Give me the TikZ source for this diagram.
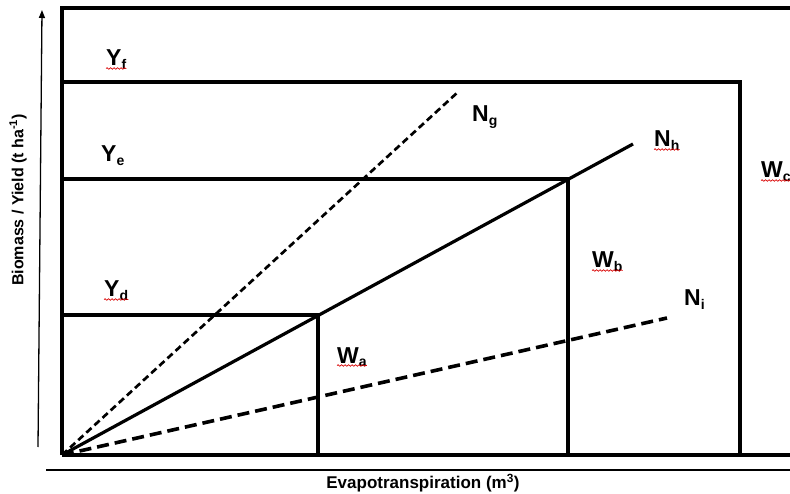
\documentclass[tikz,border=0pt]{standalone}
\usepackage{fontspec}
\setmainfont{Liberation Sans}
\usetikzlibrary{arrows.meta, decorations.pathmorphing}
\newcommand{\lsub}[1]{\raisebox{-3.5pt}{\fontsize{14}{14}\selectfont #1}}

\begin{document}
\begin{tikzpicture}[x=1pt, y=-1pt,
  frame/.style={line width=4pt},
  ray/.style={line width=3.2pt},
  axis/.style={line width=1.3pt},
  lbl/.style={font=\fontsize{23}{23}\selectfont\bfseries, inner sep=0pt, anchor=base west},
  axlbl/.style={font=\fontsize{17}{17}\selectfont\bfseries, inner sep=0pt},
  squiggle/.style={red!85!black, line width=0.7pt, decorate,
    decoration={snake, amplitude=0.8pt, segment length=3.5pt}}
]
\useasboundingbox (0,0) rectangle (790,494);

% corner points
\coordinate (O) at (62,455);
\coordinate (topL) at (62,8);
\coordinate (topR) at (790,8);
\coordinate (midL) at (62,82);
\coordinate (midR) at (740,82);
\coordinate (midB) at (740,455);
\coordinate (botR) at (790,455);
\coordinate (eL) at (62,179);
\coordinate (eR) at (568,179);
\coordinate (eB) at (568,455);
\coordinate (dL) at (62,315);
\coordinate (dR) at (318,315);
\coordinate (dB) at (318,455);
\coordinate (gEnd) at (458,92);
\coordinate (hEnd) at (633,144);
\coordinate (iEnd) at (667,318);

% boxes
\draw[frame] (O) -- (topL) -- (topR);
\draw[frame] (midL) -- (midR) -- (midB);
\draw[frame] (O) -- (botR);
\draw[frame] (eL) -- (eR) -- (eB);
\draw[frame] (dL) -- (dR) -- (dB);

% rays from the origin
\draw[ray, line width=2.7pt, dash pattern=on 7pt off 4pt] (O) -- (gEnd);
\draw[ray] (O) -- (hEnd);
\draw[ray, line width=3.6pt, dash pattern=on 12pt off 6pt] (O) -- (iEnd);

% axes
\coordinate (yA) at (38,447);
\coordinate (yB) at (42,10);
\coordinate (xA) at (46,470);
\coordinate (xB) at (790,470);
\draw[axis, -{Triangle[length=8pt, width=6pt]}] (yA) -- (yB);
\draw[axis] (xA) -- (xB);

\node[axlbl] (xlab) at (423,483) {Evapotranspiration (m\textsuperscript{3})};
\node[axlbl, font=\fontsize{16}{16}\selectfont\bfseries, rotate=90] (ylab) at (18,200) {Biomass / Yield (t ha\textsuperscript{-1})};

% labels
\node[lbl] (yf) at (106,66) {Y\lsub{f}};
\node[lbl] (ye) at (101,162) {Y\lsub{e}};
\node[lbl] (yd) at (104,297) {Y\lsub{d}};
\node[lbl] (wa) at (337,363) {W\lsub{a}};
\node[lbl] (wb) at (592,268) {W\lsub{b}};
\node[lbl] (wc) at (761,178) {W\lsub{c}};
\node[lbl] (ng) at (472,122) {N\lsub{g}};
\node[lbl] (nh) at (654,147) {N\lsub{h}};
\node[lbl] (ni) at (684,306) {N\lsub{i}};

% spell-check marks
\foreach \n in {yf, yd, wa, wb, wc, nh}
  \draw[squiggle] ([yshift=-2.5pt]\n.base west) -- ([yshift=-2.5pt]\n.base east);

\end{tikzpicture}
\end{document}
